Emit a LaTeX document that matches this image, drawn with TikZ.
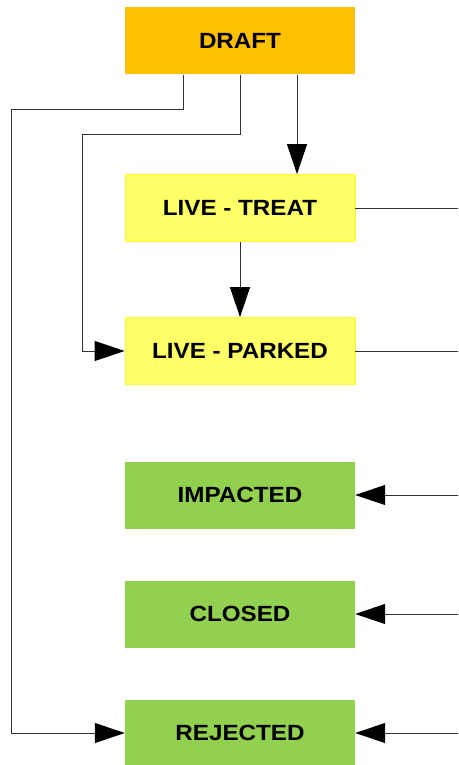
\documentclass[tikz,border=0pt]{standalone}
\usepackage{fontspec}
\setmainfont{Liberation Sans}[FakeStretch=1.1]
\usetikzlibrary{arrows.meta}
\definecolor{draftc}{HTML}{FFC000}
\definecolor{livec}{HTML}{FFFF66}
\definecolor{liveb}{HTML}{FFFF33}
\definecolor{donec}{HTML}{92D050}
\definecolor{linec}{HTML}{333333}
\begin{document}
\begin{tikzpicture}[x=1pt,y=-1pt,
  statebox/.style={minimum width=230pt,minimum height=67pt,inner sep=0pt,font=\fontsize{22}{26}\selectfont\bfseries},
  draftbox/.style={statebox,fill=draftc},
  livebox/.style={statebox,fill=livec,draw=liveb,line width=0.8pt},
  donebox/.style={statebox,fill=donec},
  conn/.style={draw=linec,line width=1pt},
  arr/.style={conn,-{Triangle[length=30pt,width=20pt,color=black]}}]
\useasboundingbox (0,0) rectangle (458,765);
\node[draftbox] (draft) at (240,41) {DRAFT};
\node[livebox] (treat) at (240,208) {LIVE - TREAT};
\node[livebox] (parked) at (240,351) {LIVE - PARKED};
\node[donebox] (impacted) at (240,495) {IMPACTED};
\node[donebox] (closed) at (240,614) {CLOSED};
\node[donebox] (rejected) at (240,733) {REJECTED};
\coordinate (rt) at (458,208);
\coordinate (rp) at (458,351);
\coordinate (ri) at (458,495);
\coordinate (rc) at (458,614);
\coordinate (rr) at (458,733);
% left routes
\draw[arr] (draft.south -| 183,0) -- (183,110) -- (11,110) -- (11,733) -- (rejected.west);
\draw[arr] (draft.south) -- (240,134) -- (82,134) -- (82,351) -- (parked.west);
\draw[arr] (draft.south -| 297,0) -- (treat.north -| 297,0);
\draw[arr] (treat.south) -- (parked.north);
% right side
\draw[conn] (treat.east) -- (rt);
\draw[conn] (parked.east) -- (rp);
\draw[arr] (ri) -- (impacted.east);
\draw[arr] (rc) -- (closed.east);
\draw[arr] (rr) -- (rejected.east);
\end{tikzpicture}
\end{document}
